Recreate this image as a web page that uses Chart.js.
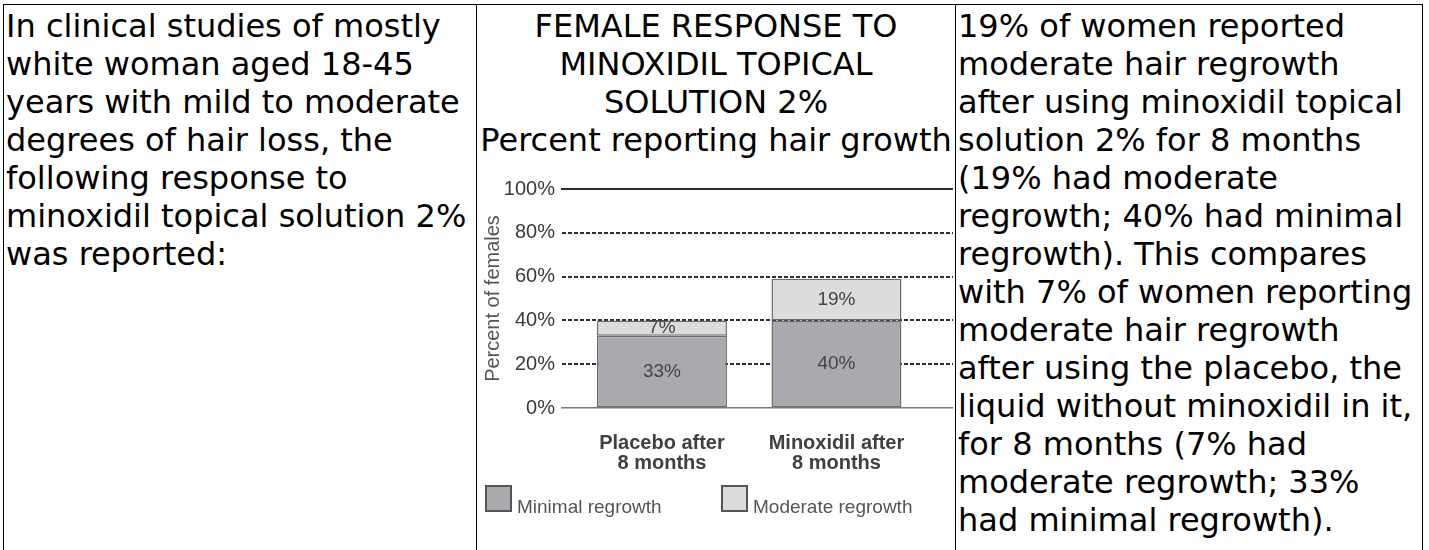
<!DOCTYPE html>
<html>
<head>
<meta charset="utf-8">
<script src="https://cdn.jsdelivr.net/npm/chart.js@4.4.1/dist/chart.umd.min.js"></script>
<style>
  html, body { margin: 0; padding: 0; background: #ffffff; }
  body { width: 1429px; height: 550px; overflow: hidden; position: relative;
         font-family: "DejaVu Sans", sans-serif; font-size: 32px; color: #000; }
  table { position: absolute; left: 3px; top: 4px; border-collapse: collapse; table-layout: fixed; width: 1420px; }
  td { border: 1px solid #000; vertical-align: top; padding: 2px 2px; line-height: normal; }
  td.mid { text-align: center; }
  #chartBox { position: absolute; left: 478px; top: 170px; width: 475px; height: 362px; }
</style>
</head>
<body>
<table>
  <colgroup><col style="width:473px"><col style="width:479px"><col style="width:467px"></colgroup>
  <tr>
    <td>In clinical studies of mostly white woman aged 18-45 years with mild to moderate degrees of hair loss, the following response to minoxidil topical solution 2% was reported:</td>
    <td class="mid"><div>FEMALE RESPONSE TO MINOXIDIL TOPICAL SOLUTION 2%</div><div>Percent reporting hair growth</div><div style="height:400px"></div></td>
    <td>19% of women reported moderate hair regrowth after using minoxidil topical solution 2% for 8 months (19% had moderate regrowth; 40% had minimal regrowth). This compares with 7% of women reporting moderate hair regrowth after using the placebo, the liquid without minoxidil in it, for 8 months (7% had moderate regrowth; 33% had minimal regrowth).</td>
  </tr>
</table>
<div id="chartBox"><canvas id="c"></canvas></div>
<script>
// ---- data ----
const categories = [["Placebo after", "8 months"], ["Minoxidil after", "8 months"]];
const seriesNames = ["Minimal regrowth", "Moderate regrowth"];
const minimalValues = [33, 40];
const moderateValues = [7, 19];
const yTickValues = [0, 20, 40, 60, 80, 100];
const yTickLabels = ["0%", "20%", "40%", "60%", "80%", "100%"];
const yAxisTitle = "Percent of females";

// ---- styles ----
const FONT = '"Liberation Sans", Arial, Helvetica, sans-serif';
const fills = ["#a8aaad", "#dcdcde"];
const edge = "#6c6c6c";
const X_MIN = -0.573, X_MAX = 1.668;

Chart.defaults.font.family = FONT;

const toPoints = arr => arr.map((v, i) => ({ x: i, y: v }));

const valueLabels = {
  id: 'valueLabels',
  afterDatasetsDraw(chart) {
    const ctx = chart.ctx;
    ctx.save();
    ctx.font = '19px ' + FONT;
    ctx.fillStyle = '#454545';
    ctx.textAlign = 'center';
    ctx.textBaseline = 'middle';
    chart.data.datasets.forEach((ds, di) => {
      const meta = chart.getDatasetMeta(di);
      meta.data.forEach((bar, j) => {
        const p = bar.getProps(['x', 'y', 'base'], true);
        ctx.fillText(ds.data[j].y + '%', p.x, (p.y + p.base) / 2);
      });
    });
    ctx.restore();
  }
};

const boxLegend = {
  id: 'boxLegend',
  afterDraw(chart) {
    const ctx = chart.ctx;
    const top = chart.chartArea.bottom + 77;
    const box = 27;
    ctx.save();
    ctx.font = '19px ' + FONT;
    ctx.textAlign = 'left';
    ctx.textBaseline = 'alphabetic';
    chart.data.datasets.forEach((ds, i) => {
      const left = 7 + i * 236;
      ctx.fillStyle = ds.backgroundColor;
      ctx.fillRect(left, top, box, box);
      ctx.strokeStyle = '#555';
      ctx.lineWidth = 2;
      ctx.strokeRect(left + 1, top + 1, box - 2, box - 2);
      ctx.fillStyle = '#555';
      ctx.fillText(ds.label, left + box + 5, top + box + 1);
    });
    ctx.restore();
  }
};

new Chart(document.getElementById('c'), {
  type: 'bar',
  data: {
    datasets: [
      { label: seriesNames[0], data: toPoints(minimalValues), backgroundColor: fills[0],
        borderColor: edge, borderWidth: 1.5, borderSkipped: false,
        barPercentage: 0.745, categoryPercentage: 1 },
      { label: seriesNames[1], data: toPoints(moderateValues), backgroundColor: fills[1],
        borderColor: edge, borderWidth: 1.5, borderSkipped: false,
        barPercentage: 0.745, categoryPercentage: 1 }
    ]
  },
  options: {
    responsive: true,
    maintainAspectRatio: false,
    animation: false,
    layout: { padding: { top: 18, right: 0, bottom: 34, left: 0 } },
    plugins: { legend: { display: false }, tooltip: { enabled: false } },
    scales: {
      x: {
        type: 'linear', stacked: true, position: 'bottom', min: X_MIN, max: X_MAX, offset: false,
        afterBuildTicks: s => { s.ticks = categories.map((c, i) => ({ value: i })); },
        ticks: { autoSkip: false, maxRotation: 0, padding: 25, color: '#404040',
                 font: { size: 20, weight: 'bold', lineHeight: 1 },
                 callback: v => categories[v] || '' },
        grid: { display: false, drawTicks: false, offset: false },
        border: { display: true, color: '#7a7a7a', width: 1.5 }
      },
      x2: {
        type: 'linear', position: 'top', min: X_MIN, max: X_MAX, offset: false,
        ticks: { display: false },
        grid: { display: false, drawTicks: false, offset: false },
        border: { display: true, color: '#2a2a2a', width: 2 }
      },
      y: {
        stacked: true, min: 0, max: 100,
        afterBuildTicks: s => { s.ticks = yTickValues.map(v => ({ value: v })); },
        afterFit: s => { s.width = 84; },
        ticks: { padding: 7, color: '#3a3a3a', font: { size: 20 },
                 callback: v => yTickLabels[yTickValues.indexOf(v)] },
        grid: { drawTicks: false, lineWidth: 2,
                color: c => (c.tick && (c.tick.value === 0 || c.tick.value === 100)) ? 'rgba(0,0,0,0)' : '#2e2e2e' },
        border: { display: false, dash: [4, 2] },
        title: { display: true, text: yAxisTitle, color: '#555', font: { size: 20, lineHeight: 1 },
                 padding: { top: 5, bottom: 0 } }
      }
    }
  },
  plugins: [valueLabels, boxLegend]
});
</script>
</body>
</html>
